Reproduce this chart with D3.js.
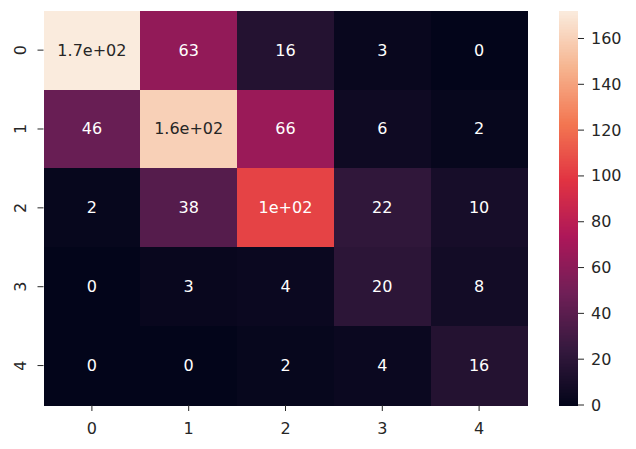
<!DOCTYPE html>
<html>
<head>
<meta charset="utf-8">
<script src="https://cdn.jsdelivr.net/npm/d3@7"></script>
<style>
  html, body { margin: 0; padding: 0; background: #ffffff; }
  svg { display: block; }
  text { font-family: "DejaVu Sans", sans-serif; }
</style>
</head>
<body>
<svg id="chart" width="636" height="449"></svg>
<script>
// ---- data ----
const rowLabels = ["0", "1", "2", "3", "4"];
const colLabels = ["0", "1", "2", "3", "4"];
const row0 = [172, 63, 16, 3, 0];
const row1 = [46, 160, 66, 6, 2];
const row2 = [2, 38, 104, 22, 10];
const row3 = [0, 3, 4, 20, 8];
const row4 = [0, 0, 2, 4, 16];
const matrix = [row0, row1, row2, row3, row4];
const colorbarTicks = [0, 20, 40, 60, 80, 100, 120, 140, 160];

// rocket colormap stops
const rocketStops = ["#03051a", "#35193e", "#701f57", "#ad1759", "#e13342", "#f37651", "#f6b48f", "#faebdd"];
const rocketPos = [0, 1/7, 2/7, 3/7, 4/7, 5/7, 6/7, 1];

// ---- layout ----
const svg = d3.select("#chart");
const hm = { left: 43.5, right: 527.5, top: 10.7, bottom: 405 };
const cb = { left: 559, width: 19, top: 11, bottom: 405 };
const fontSize = 16;
const textDark = "#262626";

const vmin = 0, vmax = d3.max(matrix.flat());

const rocket = d3.scaleLinear().domain(rocketPos).range(rocketStops).interpolate(d3.interpolateRgb).clamp(true);
const color = v => rocket((v - vmin) / (vmax - vmin));

const x = d3.scaleBand().domain(colLabels).range([hm.left, hm.right]).padding(0);
const y = d3.scaleBand().domain(rowLabels).range([hm.top, hm.bottom]).padding(0);

function fmt(v) { // python '.2g'
  if (v === 0) return "0";
  const e = Math.floor(Math.log10(Math.abs(v)));
  if (e < -4 || e >= 2) {
    let [m, ex] = v.toExponential(1).split("e");
    if (m.indexOf(".") >= 0) m = m.replace(/0+$/, "").replace(/\.$/, "");
    const sign = ex[0] === "-" ? "-" : "+";
    let digits = ex.replace(/[+-]/, "");
    if (digits.length < 2) digits = "0" + digits;
    return m + "e" + sign + digits;
  }
  return String(+v.toPrecision(2));
}
function luminance(c) {
  const rgb = d3.rgb(c);
  const f = u => { u /= 255; return u <= 0.03928 ? u / 12.92 : Math.pow((u + 0.055) / 1.055, 2.4); };
  return 0.2126 * f(rgb.r) + 0.7152 * f(rgb.g) + 0.0722 * f(rgb.b);
}

const cells = [];
matrix.forEach((row, i) => row.forEach((v, j) => cells.push({ r: rowLabels[i], c: colLabels[j], v })));

const g = svg.append("g");
g.selectAll("rect.cell").data(cells).enter().append("rect")
  .attr("class", "cell")
  .attr("x", d => x(d.c))
  .attr("y", d => y(d.r))
  .attr("width", x.bandwidth() + 0.5)
  .attr("height", y.bandwidth() + 0.5)
  .attr("shape-rendering", "crispEdges")
  .attr("fill", d => color(d.v));

g.selectAll("text.annot").data(cells).enter().append("text")
  .attr("class", "annot")
  .attr("x", d => x(d.c) + x.bandwidth() / 2)
  .attr("y", d => y(d.r) + y.bandwidth() / 2)
  .attr("text-anchor", "middle")
  .attr("dominant-baseline", "central")
  .attr("font-size", fontSize)
  .attr("fill", d => luminance(color(d.v)) > 0.408 ? textDark : "#ffffff")
  .text(d => fmt(d.v));

// x axis
const xAxis = svg.append("g");
colLabels.forEach(c => {
  const cx = x(c) + x.bandwidth() / 2;
  xAxis.append("line").attr("x1", cx).attr("x2", cx).attr("y1", hm.bottom).attr("y2", hm.bottom + 6)
    .attr("stroke", textDark).attr("stroke-width", 1);
  xAxis.append("text").attr("x", cx).attr("y", 434).attr("text-anchor", "middle")
    .attr("font-size", fontSize).attr("fill", textDark).text(c);
});

// y axis
const yAxis = svg.append("g");
rowLabels.forEach(r => {
  const cy = y(r) + y.bandwidth() / 2;
  yAxis.append("line").attr("x1", hm.left - 6).attr("x2", hm.left).attr("y1", cy).attr("y2", cy)
    .attr("stroke", textDark).attr("stroke-width", 1);
  yAxis.append("text").attr("transform", `translate(20,${cy}) rotate(-90)`)
    .attr("text-anchor", "middle").attr("dominant-baseline", "central")
    .attr("font-size", fontSize).attr("fill", textDark).text(r);
});

// colorbar
const cbScale = d3.scaleLinear().domain([vmin, vmax]).range([cb.bottom, cb.top]);
const steps = d3.range(0, 256);
svg.append("g").selectAll("rect").data(steps).enter().append("rect")
  .attr("x", cb.left)
  .attr("width", cb.width)
  .attr("y", d => cbScale(vmin + (d + 1) / 256 * (vmax - vmin)))
  .attr("height", (cb.bottom - cb.top) / 256 + 0.6)
  .attr("shape-rendering", "crispEdges")
  .attr("fill", d => rocket((d + 0.5) / 256));

const cbAxis = svg.append("g");
colorbarTicks.forEach(t => {
  const ty = cbScale(t);
  cbAxis.append("line").attr("x1", cb.left + cb.width).attr("x2", cb.left + cb.width + 6)
    .attr("y1", ty).attr("y2", ty).attr("stroke", textDark).attr("stroke-width", 1);
  cbAxis.append("text").attr("x", 591).attr("y", ty).attr("dominant-baseline", "central")
    .attr("font-size", fontSize).attr("fill", textDark).text(t);
});
</script>
</body>
</html>
